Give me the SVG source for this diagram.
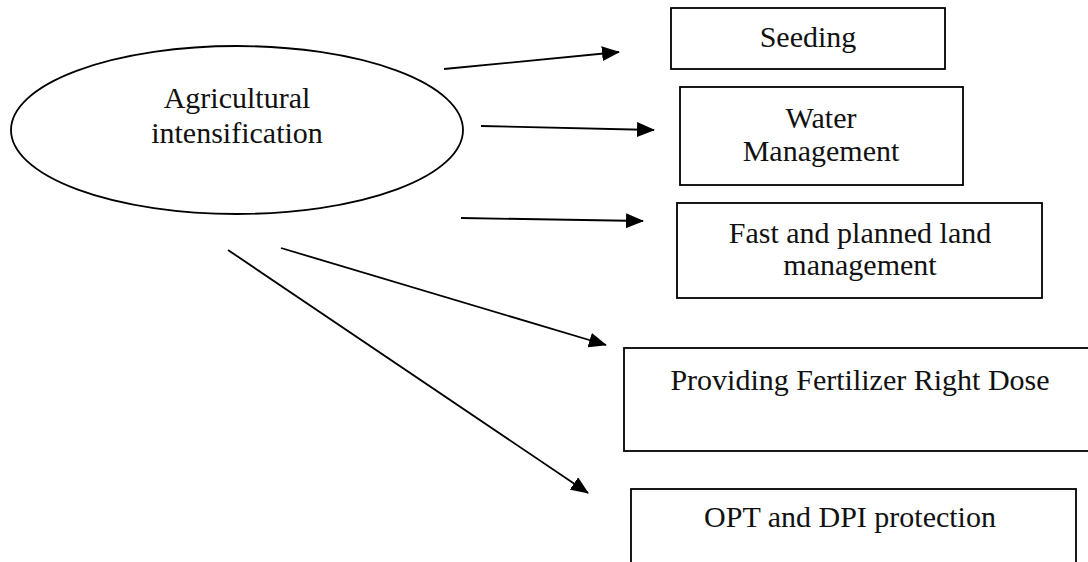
<svg xmlns="http://www.w3.org/2000/svg" width="1088" height="562" viewBox="0 0 1088 562">
<style>
.box{fill:#fff;stroke:#000;stroke-width:1.8}
.lbl{font-family:"Liberation Serif","Times New Roman",serif;font-size:30px;fill:#111;text-anchor:middle}
.con{stroke:#000;stroke-width:1.8;fill:none;marker-end:url(#ah)}
</style>
<defs>
<marker id="ah" viewBox="0 0 18 15" refX="17" refY="7.5" markerWidth="18" markerHeight="15" markerUnits="userSpaceOnUse" orient="auto">
<path d="M0,0 L18,7.5 L0,15 Z" fill="#000"/>
</marker>
</defs>
<rect width="1088" height="562" fill="#fff"/>
<g id="n-agri">
<ellipse cx="237" cy="130" rx="226" ry="84" fill="#fff" stroke="#000" stroke-width="1.8"/>
<text class="lbl" x="237" y="108">Agricultural</text>
<text class="lbl" x="237" y="143">intensification</text>
</g>
<g id="n-seeding">
<rect class="box" x="671" y="8" width="274" height="61"/>
<text class="lbl" x="808" y="47">Seeding</text>
</g>
<g id="n-water">
<rect class="box" x="680" y="87" width="283" height="98"/>
<text class="lbl" x="821" y="128">Water</text>
<text class="lbl" x="821" y="161">Management</text>
</g>
<g id="n-land">
<rect class="box" x="677" y="203" width="365" height="95"/>
<text class="lbl" x="860" y="243">Fast and planned land</text>
<text class="lbl" x="860" y="275">management</text>
</g>
<g id="n-fert">
<rect class="box" x="624" y="348" width="474" height="103"/>
<text class="lbl" x="860" y="390">Providing Fertilizer Right Dose</text>
</g>
<g id="n-opt">
<rect class="box" x="631" y="489" width="445" height="85"/>
<text class="lbl" x="850" y="527">OPT and DPI protection</text>
</g>
<g id="connectors">
<line class="con" x1="444" y1="69" x2="619" y2="52"/>
<line class="con" x1="481" y1="126" x2="654" y2="130"/>
<line class="con" x1="461" y1="218" x2="643" y2="221"/>
<line class="con" x1="281" y1="248" x2="606" y2="345"/>
<line class="con" x1="228" y1="250" x2="588" y2="493"/>
</g>
</svg>
